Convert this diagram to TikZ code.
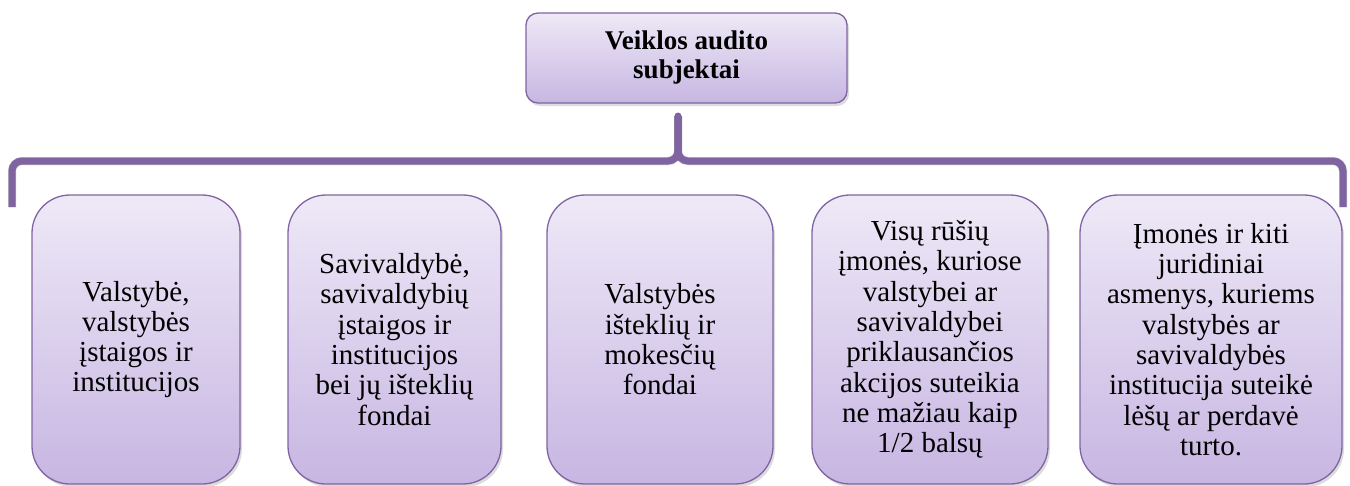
\documentclass[tikz,border=0pt]{standalone}
\usepackage{fontspec}
\setmainfont{Liberation Serif}
\usetikzlibrary{shadows}
\definecolor{frame}{HTML}{8064A2}
\definecolor{filltop}{HTML}{EEE9F7}
\definecolor{fillbot}{HTML}{C7B6E2}

\begin{document}
\begin{tikzpicture}[x=1pt,y=-1pt,
  softshadow/.style={drop shadow={opacity=0.28, shadow xshift=2pt, shadow yshift=-3pt}},
  card/.style={draw=frame, line width=1.3pt, top color=filltop, bottom color=fillbot,
    rounded corners=38pt, minimum height=289pt, inner sep=0pt, align=center,
    font=\fontsize{29}{30.3}\selectfont, softshadow},
  headbox/.style={draw=frame, line width=1.3pt, top color=filltop, bottom color=fillbot,
    rounded corners=12pt, minimum width=321pt, minimum height=90pt, inner sep=0pt,
    align=center, font=\bfseries\fontsize{27}{29}\selectfont, softshadow},
  bracket/.style={draw=frame, line width=7pt, rounded corners=10pt},
  bracketshadow/.style={draw=black, opacity=0.12, line width=8pt, rounded corners=10pt}
]
\useasboundingbox (0,0) rectangle (1350,485);

% bracket coordinates
\coordinate (stemtop) at (678,116);
\coordinate (joint) at (678,161);
\coordinate (lcorner) at (12,161);
\coordinate (lfoot) at (12,207);
\coordinate (rcorner) at (1343,161);
\coordinate (rfoot) at (1343,207);

% soft shadow under the bracket
\begin{scope}[shift={(1,4)}]
  \draw[bracketshadow] (stemtop) -- (joint) -- (lcorner) -- (lfoot);
  \draw[bracketshadow] (stemtop) -- (joint) -- (rcorner) -- (rfoot);
\end{scope}
\begin{scope}[shift={(1,2)}]
  \draw[bracketshadow] (stemtop) -- (joint) -- (lcorner) -- (lfoot);
  \draw[bracketshadow] (stemtop) -- (joint) -- (rcorner) -- (rfoot);
\end{scope}

% the bracket joining the head to the row of cards
\draw[bracket] (stemtop) -- (joint) -- (lcorner) -- (lfoot);
\draw[bracket] (stemtop) -- (joint) -- (rcorner) -- (rfoot);
\fill[frame] (stemtop) circle (3.5pt);

% head box
\node[headbox] (head) at (686.5,58) {Veiklos audito\\subjektai};

% cards
\node[card, minimum width=208pt] (c1) at (136,339.5)
  {Valstybė,\\valstybės\\įstaigos ir\\institucijos};
\node[card, minimum width=213pt] (c2) at (394.5,339.5)
  {Savivaldybė,\\savivaldybių\\įstaigos ir\\institucijos\\bei jų išteklių\\fondai};
\node[card, minimum width=226pt] (c3) at (660,339.5)
  {Valstybės\\išteklių ir\\mokesčių\\fondai};
\node[card, minimum width=236pt] (c4) at (930,339.5)
  {Visų rūšių\\įmonės, kuriose\\valstybei ar\\savivaldybei\\priklausančios\\akcijos suteikia\\ne mažiau kaip\\1/2 balsų};
\node[card, minimum width=262pt] (c5) at (1211,339.5)
  {Įmonės ir kiti\\juridiniai\\asmenys, kuriems\\valstybės ar\\savivaldybės\\institucija suteikė\\lėšų ar perdavė\\turto.};
\end{tikzpicture}
\end{document}
